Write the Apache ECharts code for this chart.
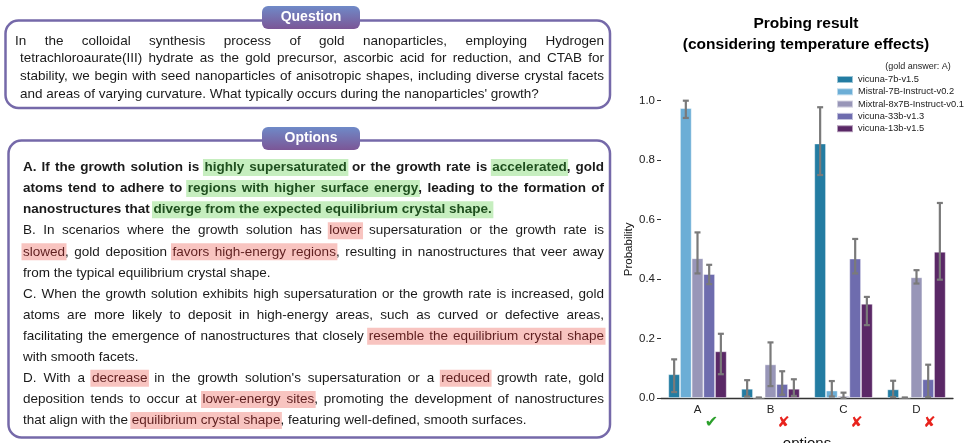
<!DOCTYPE html>
<html>
<head>
<meta charset="utf-8">
<script src="https://cdn.jsdelivr.net/npm/echarts@6/dist/echarts.min.js"></script>
<style>
html, body { margin: 0; padding: 0; background: #fff; }
#main { width: 970px; height: 443px; }
</style>
</head>
<body>
<div id="main"></div>
<script>
// ---- chart data ----
const categories = ['A', 'B', 'C', 'D'];
const answerMarks = ['✔', '✘', '✘', '✘'];
const modelNames = ['vicuna-7b-v1.5', 'Mistral-7B-Instruct-v0.2', 'Mixtral-8x7B-Instruct-v0.1', 'vicuna-33b-v1.3', 'vicuna-13b-v1.5'];
const modelColors = ['#237ca2', '#6caed6', '#9896b8', '#6e6cae', '#5a2866'];

const vicuna7b = [0.08, 0.031, 0.856, 0.029];
const mistral7b = [0.975, 0.001, 0.025, 0.001];
const mixtral8x7b = [0.47, 0.113, 0.007, 0.406];
const vicuna33b = [0.417, 0.047, 0.469, 0.063];
const vicuna13b = [0.157, 0.031, 0.317, 0.492];

const vicuna7bLow = [0.02, 0.005, 0.75, 0.003];
const vicuna7bHigh = [0.13, 0.06, 0.978, 0.058];
const mistral7bLow = [0.942, 0.001, 0.005, 0.001];
const mistral7bHigh = [1.0, 0.001, 0.057, 0.001];
const mixtral8x7bLow = [0.419, 0.04, 0.0, 0.385];
const mixtral8x7bHigh = [0.557, 0.187, 0.018, 0.43];
const vicuna33bLow = [0.383, 0.011, 0.419, 0.003];
const vicuna33bHigh = [0.448, 0.09, 0.535, 0.112];
const vicuna13bLow = [0.08, 0.007, 0.245, 0.398];
const vicuna13bHigh = [0.216, 0.063, 0.34, 0.656];

const yTicks = [0, 0.2, 0.4, 0.6, 0.8, 1.0];

// ---- text panel content ----
const questionLines = [
    [['In the colloidal synthesis process of gold nanoparticles, employing Hydrogen', '']],
    [['tetrachloroaurate(III) hydrate as the gold precursor, ascorbic acid for reduction, and CTAB for', '']],
    [['stability, we begin with seed nanoparticles of anisotropic shapes, including diverse crystal facets', '']],
    [['and areas of varying curvature. What typically occurs during the nanoparticles\' growth?', '']]
];
const optionLines = [
    { bold: true, segs: [['A. If the growth solution is ', ''], ['highly supersaturated', 'g'], [' or the growth rate is ', ''], ['accelerated', 'g'], [', gold', '']] },
    { bold: true, segs: [['atoms tend to adhere to ', ''], ['regions with higher surface energy', 'g'], [', leading to the formation of', '']] },
    { bold: true, last: true, segs: [['nanostructures that ', ''], ['diverge from the expected equilibrium crystal shape.', 'g']] },
    { segs: [['B. In scenarios where the growth solution has ', ''], ['lower', 'r'], [' supersaturation or the growth rate is', '']] },
    { segs: [['slowed', 'r'], [', gold deposition ', ''], ['favors high-energy regions', 'r'], [', resulting in nanostructures that veer away', '']] },
    { last: true, segs: [['from the typical equilibrium crystal shape.', '']] },
    { segs: [['C. When the growth solution exhibits high supersaturation or the growth rate is increased, gold', '']] },
    { segs: [['atoms are more likely to deposit in high-energy areas, such as curved or defective areas,', '']] },
    { segs: [['facilitating the emergence of nanostructures that closely ', ''], ['resemble the equilibrium crystal shape', 'r']] },
    { last: true, segs: [['with smooth facets.', '']] },
    { segs: [['D. With a ', ''], ['decrease', 'r'], [' in the growth solution\'s supersaturation or a ', ''], ['reduced', 'r'], [' growth rate, gold', '']] },
    { segs: [['deposition tends to occur at ', ''], ['lower-energy sites', 'r'], [', promoting the development of nanostructures', '']] },
    { last: true, segs: [['that align with the ', ''], ['equilibrium crystal shape', 'r'], [', featuring well-defined, smooth surfaces.', '']] }
];

const FONT = '"Liberation Sans", Arial, Helvetica, sans-serif';
const FS = 13.5;
const textColor = { '': '#1a1a1a', g: '#1f4f1f', r: '#5e1f1f' };
const hlColor = { g: '#c6eebf', r: '#f8c4c0' };

const ctx = document.createElement('canvas').getContext('2d');
function measure(t, bold) {
    ctx.font = (bold ? 'bold ' : '') + FS + 'px ' + FONT;
    return ctx.measureText(t).width;
}

// lay out one line of justified text, returns [rects, texts]
function layoutLine(segs, x0, x1, y, bold, justify) {
    let words = [[]];
    segs.forEach(([t, k]) => {
        t.split(' ').forEach((p, i) => {
            if (i > 0) words.push([]);
            if (p) words[words.length - 1].push({ t: p, k: k });
        });
    });
    words = words.filter(w => w.length);
    let total = 0;
    words.forEach(w => {
        w.forEach(p => { p.w = measure(p.t, bold); total += p.w; });
    });
    const gap = justify && words.length > 1 ? (x1 - x0 - total) / (words.length - 1) : measure(' ', bold);
    const rects = [], texts = [];
    let x = x0, run = null;
    words.forEach(w => {
        w.forEach(p => {
            if (p.k) {
                if (run && run.k === p.k) run.x1 = x + p.w;
                else { if (run) rects.push(run); run = { k: p.k, x0: x, x1: x + p.w }; }
            } else if (run) { rects.push(run); run = null; }
            texts.push({
                type: 'text', x: x, y: y, z: 3,
                style: {
                    text: p.t, fill: textColor[p.k], fontSize: FS, fontFamily: FONT,
                    fontWeight: bold ? 'bold' : 'normal', textAlign: 'left', textVerticalAlign: 'middle'
                }
            });
            x += p.w;
        });
        x += gap;
    });
    if (run) rects.push(run);
    return [rects.map(r => ({
        type: 'rect', z: 2,
        shape: { x: r.x0 - 1.5, y: y - 8.5, width: r.x1 - r.x0 + 3, height: 17 },
        style: { fill: hlColor[r.k] }
    })), texts];
}

function tab(label, cy) {
    return [{
        type: 'rect', z: 4,
        shape: { x: 262, y: cy - 11.5, width: 98, height: 23, r: 6 },
        style: {
            fill: new echarts.graphic.LinearGradient(0, 0, 0, 1, [
                { offset: 0, color: '#6f8ac8' }, { offset: 1, color: '#7b5696' }
            ])
        }
    }, {
        type: 'text', z: 5, x: 311, y: cy,
        style: { text: label, fill: '#fff', fontSize: 14, fontWeight: 'bold', fontFamily: FONT, textAlign: 'center', textVerticalAlign: 'middle' }
    }];
}

const panel = [];
panel.push({ type: 'rect', z: 1, shape: { x: 5.5, y: 20.5, width: 604.5, height: 87.5, r: 13 }, style: { fill: '#fff', stroke: '#7569a9', lineWidth: 2.5 } });
panel.push({ type: 'rect', z: 1, shape: { x: 8.5, y: 140.5, width: 601.5, height: 297, r: 13 }, style: { fill: '#fff', stroke: '#7569a9', lineWidth: 2.5 } });
panel.push(...tab('Question', 17.5), ...tab('Options', 138.5));

questionLines.forEach((segs, i) => {
    const [r, t] = layoutLine(segs, i === 0 ? 15 : 20, 604, 41 + i * 17.6, false, i < questionLines.length - 1);
    panel.push(...r, ...t);
});
optionLines.forEach((ln, i) => {
    const [r, t] = layoutLine(ln.segs, 23, 604, 167.5 + i * 21.08, !!ln.bold, !ln.last);
    panel.push(...r, ...t);
});
panel.push({
    type: 'text', x: 918, y: 67, z: 5,
    style: { text: '(gold answer: A)', fill: '#222', fontSize: 9, fontFamily: FONT, textAlign: 'center', textVerticalAlign: 'middle' }
});

// ---- chart ----
const values = [vicuna7b, mistral7b, mixtral8x7b, vicuna33b, vicuna13b];
const lows = [vicuna7bLow, mistral7bLow, mixtral8x7bLow, vicuna33bLow, vicuna13bLow];
const highs = [vicuna7bHigh, mistral7bHigh, mixtral8x7bHigh, vicuna33bHigh, vicuna13bHigh];

const errData = [];
modelNames.forEach((m, s) => {
    categories.forEach((c, i) => errData.push([i, s, lows[s][i], highs[s][i]]));
});

const barSeries = modelNames.map((name, s) => ({
    name: name,
    type: 'bar',
    data: values[s],
    barGap: '0%',
    barCategoryGap: '20%',
    itemStyle: { color: modelColors[s], borderColor: 'rgba(255,255,255,0.55)', borderWidth: 0.8 }
}));

const chart = echarts.init(document.getElementById('main'));
chart.setOption({
    animation: false,
    title: {
        text: 'Probing result\n(considering temperature effects)',
        left: 801, top: 8, textAlign: 'center',
        textStyle: { fontSize: 15.5, fontWeight: 'bold', color: '#000', lineHeight: 21, fontFamily: FONT }
    },
    legend: {
        orient: 'vertical', left: 831, top: 69.5,
        itemWidth: 16, itemHeight: 7, itemGap: 2.3, icon: 'rect',
        textStyle: { fontSize: 9.3, lineHeight: 10, color: '#222', fontFamily: FONT },
        data: modelNames
    },
    grid: { left: 661, right: 17, top: 100.7, bottom: 45, outerBoundsMode: 'none', containLabel: false },
    xAxis: {
        type: 'category',
        data: categories,
        axisLine: { lineStyle: { color: '#333', width: 1.3 } },
        axisTick: { alignWithLabel: true, length: 4, lineStyle: { color: '#333' } },
        axisLabel: {
            margin: 6,
            formatter: (v, i) => '{c|' + v + '}\n{' + (i === 0 ? 'ok' : 'no') + '|' + answerMarks[i] + '}',
            rich: {
                c: { fontSize: 11.5, lineHeight: 12, color: '#222', fontFamily: FONT },
                ok: { fontSize: 16, lineHeight: 14, color: '#2ca02c', fontFamily: 'DejaVu Sans', padding: [0, 0, 0, 28] },
                no: { fontSize: 15, lineHeight: 14, color: '#e8231d', fontFamily: 'DejaVu Sans', padding: [0, 0, 0, 26] }
            }
        },
        name: 'options', nameLocation: 'middle', nameGap: 31,
        nameTextStyle: { fontSize: 15, color: '#111', fontFamily: FONT }
    },
    yAxis: {
        type: 'value', min: yTicks[0], max: yTicks[yTicks.length - 1], interval: 0.2,
        axisLine: { show: false },
        axisTick: { show: true, length: 4, lineStyle: { color: '#333' } },
        splitLine: { show: false },
        axisLabel: { margin: 6, fontSize: 11.5, color: '#222', fontFamily: FONT, formatter: v => v.toFixed(1) },
        name: 'Probability', nameLocation: 'middle', nameGap: 25, nameRotate: 90,
        nameTextStyle: { fontSize: 11.5, color: '#111', fontFamily: FONT }
    },
    graphic: { elements: panel },
    series: barSeries.concat([{
        type: 'custom',
        name: 'error',
        z: 10,
        encode: { x: 0, y: [2, 3] },
        data: errData,
        renderItem: function (params, api) {
            const ci = api.value(0), si = api.value(1);
            const band = api.size([1, 0])[0];
            const bw = band * 0.8 / modelNames.length;
            const cx = api.coord([ci, 0])[0] - band * 0.4 + (si + 0.5) * bw;
            const yl = api.coord([ci, api.value(2)])[1];
            const yh = api.coord([ci, api.value(3)])[1];
            const st = { stroke: '#7a7a7a', lineWidth: 2.2 };
            return {
                type: 'group',
                children: [
                    { type: 'line', shape: { x1: cx, y1: yl, x2: cx, y2: yh }, style: st },
                    { type: 'line', shape: { x1: cx - 3, y1: yl, x2: cx + 3, y2: yl }, style: st },
                    { type: 'line', shape: { x1: cx - 3, y1: yh, x2: cx + 3, y2: yh }, style: st }
                ]
            };
        }
    }])
});
</script>
</body>
</html>
